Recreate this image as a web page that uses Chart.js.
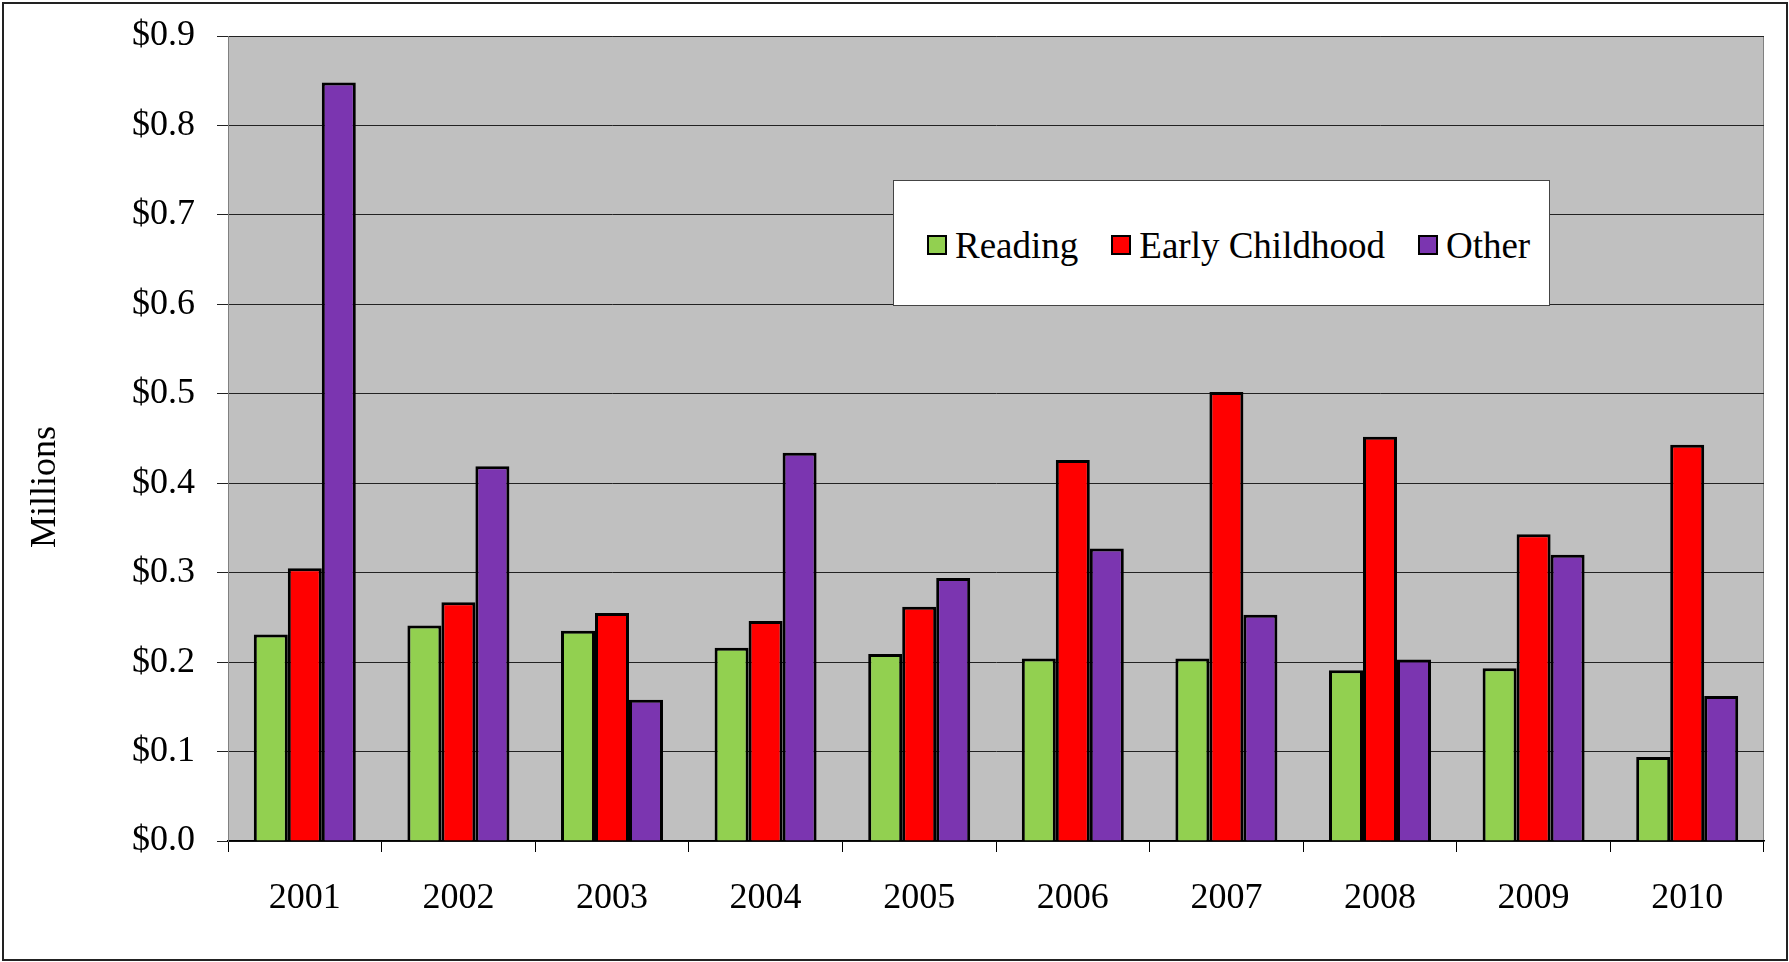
<!DOCTYPE html>
<html lang="en">
<head>
  <meta charset="UTF-8" />
  <title>Funding by Category</title>
  <script src="https://cdn.jsdelivr.net/npm/chart.js"></script>
  <style>
    body {
      margin: 0;
      background: #fff;
      font-family: 'Liberation Serif', 'Times New Roman', serif;
    }
    .wrap {
      position: relative;
      width: 1789px;
      height: 962px;
    }
    .frame {
      position: absolute;
      left: 2px; top: 2px; right: 1px; bottom: 1px;
      border: 2px solid #222;
      pointer-events: none;
    }
    #legend {
      position: absolute;
      left: 893px;
      top: 180px;
      width: 657px;
      height: 126px;
      background: #fff;
      border: 1px solid #444;
      box-sizing: border-box;
      display: flex;
      align-items: center;
      padding-left: 33px;
      padding-top: 4px;
      font-size: 37px;
      color: #000;
      white-space: nowrap;
    }
    .item { display: flex; align-items: center; margin-right: 33px; flex-shrink: 0; }
    .swatch {
      width: 16px; height: 16px;
      border: 2px solid #000;
      margin-right: 8px;
    }
  </style>
</head>
<body>
  <div class="wrap">
    <canvas id="chart"></canvas>
    <div id="legend"></div>
    <div class="frame"></div>
  </div>

  <script>
    const years = ["2001", "2002", "2003", "2004", "2005", "2006", "2007", "2008", "2009", "2010"];
    const reading = [0.231, 0.241, 0.235, 0.216, 0.209, 0.204, 0.204, 0.191, 0.193, 0.094];
    const earlyChildhood = [0.305, 0.267, 0.255, 0.246, 0.262, 0.426, 0.502, 0.452, 0.343, 0.443];
    const other = [0.848, 0.419, 0.158, 0.434, 0.294, 0.327, 0.253, 0.203, 0.320, 0.162];
    const yTicks = ["$0.0", "$0.1", "$0.2", "$0.3", "$0.4", "$0.5", "$0.6", "$0.7", "$0.8", "$0.9"];

    const series = [
      { label: "Reading", data: reading, color: "#92D050" },
      { label: "Early Childhood", data: earlyChildhood, color: "#FF0000" },
      { label: "Other", data: other, color: "#7B35B0" }
    ];

    const font = { family: "'Liberation Serif', 'Times New Roman', serif", size: 36 };

    // grey plot area + y axis title
    const plotBg = {
      id: 'plotBg',
      beforeDraw(chart) {
        const { ctx, chartArea: a } = chart;
        ctx.save();
        ctx.fillStyle = '#C0C0C0';
        ctx.fillRect(a.left, a.top, a.right - a.left, a.bottom - a.top);
        ctx.strokeStyle = '#808080';
        ctx.lineWidth = 1;
        ctx.strokeRect(a.left + 0.5, a.top + 0.5, a.right - a.left - 1, a.bottom - a.top);
        ctx.restore();
      },
      afterDraw(chart) {
        const ctx = chart.ctx;
        ctx.save();
        ctx.translate(55, 487);
        ctx.rotate(-Math.PI / 2);
        ctx.font = "36px 'Liberation Serif', serif";
        ctx.fillStyle = '#000';
        ctx.textAlign = 'center';
        ctx.textBaseline = 'alphabetic';
        ctx.fillText('Millions', 0, 0);
        ctx.restore();
      }
    };

    const canvas = document.getElementById('chart');
    canvas.style.width = '1789px';
    canvas.style.height = '962px';

    new Chart(canvas, {
      type: 'bar',
      data: {
        labels: years,
        datasets: series.map(s => ({
          label: s.label,
          data: s.data,
          backgroundColor: s.color,
          borderColor: '#000',
          borderWidth: 3,
          categoryPercentage: 0.664,
          barPercentage: 1.0
        }))
      },
      options: {
        responsive: true,
        maintainAspectRatio: false,
        animation: false,
        layout: { padding: { left: 0, top: 36, right: 25, bottom: 0 } },
        plugins: {
          legend: { display: false },
          tooltip: { enabled: false }
        },
        scales: {
          x: {
            afterFit: s => { s.height = 121; },
            grid: {
              offset: true,
              drawOnChartArea: false,
              tickLength: 11,
              color: '#000',
              lineWidth: 1
            },
            border: { color: '#000', width: 1.5 },
            ticks: { font, color: '#000', padding: 25 }
          },
          y: {
            min: 0,
            max: 0.9,
            afterFit: s => {
              s.width = 228;
              // tick padding would otherwise push the plot top down
              s.paddingTop = 0;
              s.paddingBottom = 0;
            },
            grid: { color: '#222', lineWidth: 1, tickLength: 11 },
            border: { color: '#808080', width: 1 },
            ticks: {
              stepSize: 0.1,
              font,
              color: '#000',
              padding: 22,
              callback: (v, i) => yTicks[i]
            }
          }
        }
      },
      plugins: [plotBg]
    });

    const legend = document.getElementById('legend');
    series.forEach(s => {
      const item = document.createElement('div');
      item.className = 'item';
      item.innerHTML = `<span class="swatch" style="background:${s.color}"></span><span>${s.label}</span>`;
      legend.appendChild(item);
    });
  </script>
</body>
</html>
